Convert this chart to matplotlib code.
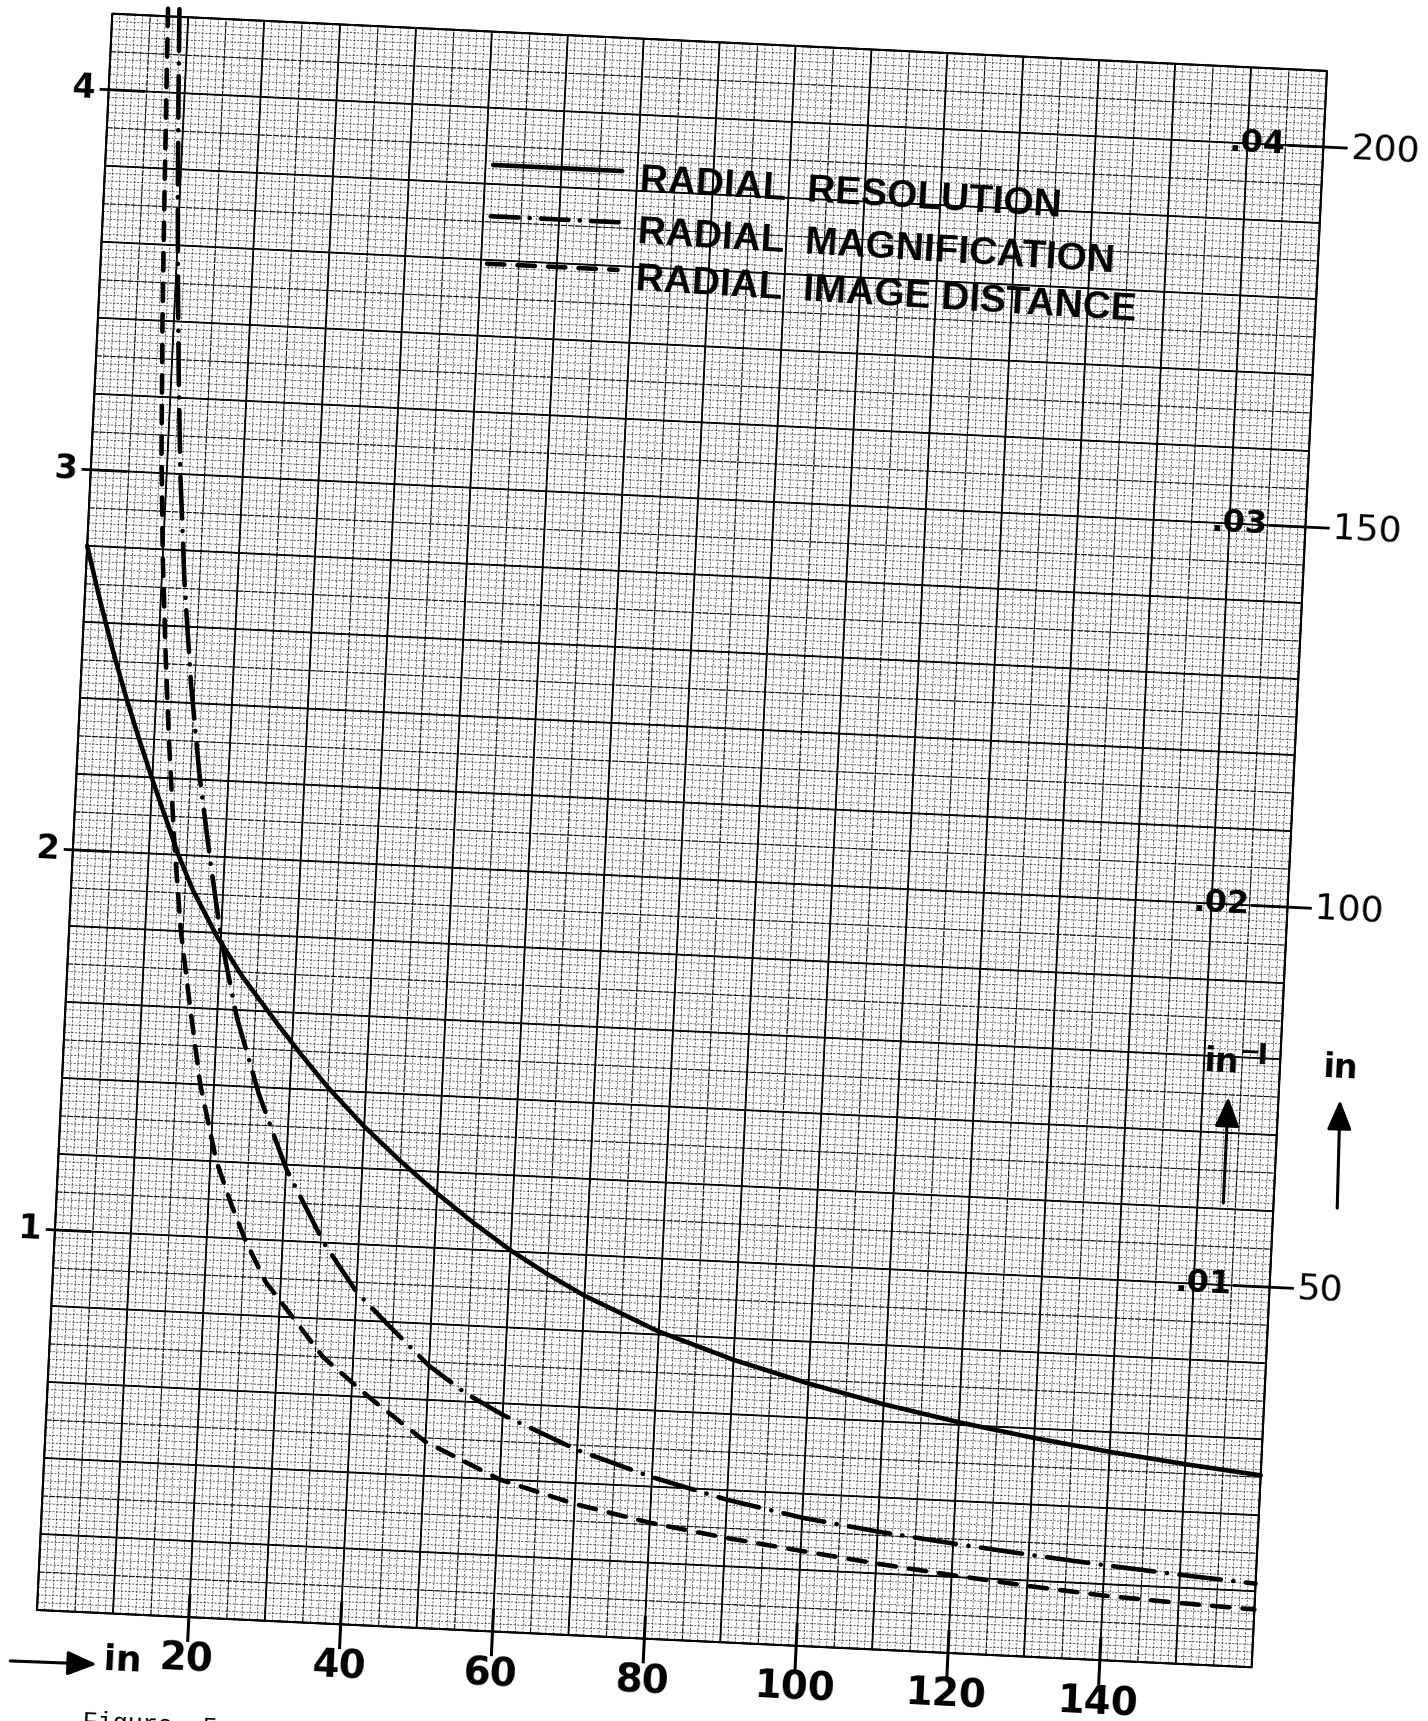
import numpy as np
import matplotlib.pyplot as plt
from matplotlib.collections import LineCollection
from matplotlib.transforms import Affine2D

plt.rcParams['lines.scale_dashes'] = False

# curves, in units of the left-hand scale
res_x = [0, 2, 4, 6, 8, 10, 12, 13.9, 16, 19.5, 23, 27.9, 31.1, 34.9, 40, 44.9, 50, 55,
         60, 65, 70, 80, 90, 100, 110, 120, 130, 140, 150, 160]
res_y = [2.8, 2.66, 2.53, 2.41, 2.3, 2.195, 2.095, 2.0, 1.91, 1.79, 1.69, 1.57, 1.495,
         1.41, 1.31, 1.225, 1.143, 1.07, 1.003, 0.945, 0.893, 0.808, 0.743, 0.69, 0.645,
         0.607, 0.575, 0.548, 0.525, 0.505]

mag_x = [8.8, 9.2, 9.7, 10.3, 11.0, 11.8, 13.0, 14.5, 16.2, 18.2, 20.1, 22.6, 26.0, 30.0,
         35.4, 40.0, 44.5, 50.0, 55.0, 60.0, 70.0, 80.0, 90.0, 100.0, 110.0, 120.0, 130.0,
         140.0, 150.0, 160.0]
mag_y = [4.22, 4.0, 3.75, 3.5, 3.25, 3.0, 2.72, 2.45, 2.21, 1.98, 1.78, 1.58, 1.38, 1.19,
         1.0, 0.875, 0.79, 0.69, 0.622, 0.57, 0.487, 0.425, 0.375, 0.337, 0.31, 0.288,
         0.268, 0.25, 0.234, 0.22]

img_x = [7.3, 7.6, 8.0, 8.5, 9.2, 10.0, 11.0, 12.0, 13.3, 14.7, 16.4, 18.2, 20.8, 23.0,
         25.0, 28.0, 31.8, 36.0, 42.3, 50.0, 60.0, 70.0, 80.0, 90.0, 100.0, 110.0, 120.0,
         130.0, 140.0, 150.0, 160.0]
img_y = [4.22, 4.0, 3.72, 3.40, 3.05, 2.78, 2.52, 2.29, 2.03, 1.8, 1.6, 1.4, 1.2, 1.09,
         1.0, 0.89, 0.8, 0.7, 0.6, 0.49, 0.40, 0.345, 0.305, 0.275, 0.25, 0.226, 0.205,
         0.186, 0.17, 0.16, 0.152]

left_ticks = [1, 2, 3, 4]
right_inv = ['.01', '.02', '.03', '.04']
right_in = ['50', '100', '150', '200']
bottom_ticks = [20, 40, 60, 80, 100, 120, 140]
legend_labels = ['RADIAL  RESOLUTION', 'RADIAL  MAGNIFICATION', 'RADIAL  IMAGE DISTANCE']

W, H, DPI = 1428, 1721, 100
X0, Y0 = 37, 111          # lower left corner of the sheet grid, pixels
PX_X, PX_Y = 7.6, 380.5   # pixels per unit
TILT = -2.7               # the sheet sits a little crooked
XMAX, YMAX = 160, 4.2

fig = plt.figure(figsize=(W / DPI, H / DPI), dpi=DPI)
ax = fig.add_axes([X0 / W, Y0 / H, XMAX * PX_X / W, YMAX * PX_Y / H])
ax.set_xlim(0, XMAX)
ax.set_ylim(0, YMAX)
ax.set_autoscale_on(False)
ax.axis('off')
tr = ax.transData + Affine2D().rotate_deg_around(X0, Y0, TILT)


def grid(dx, dy, **kw):
    xs = np.arange(0, XMAX + 1e-9, dx)
    ys = np.arange(0, YMAX + 1e-9, dy)
    segs = [[(x, 0), (x, YMAX)] for x in xs] + [[(0, y), (XMAX, y)] for y in ys]
    ax.add_collection(LineCollection(segs, transform=tr, clip_on=False, **kw), autolim=False)


# graph paper: fine, half and full divisions
grid(1, 0.02, colors='0.15', linewidths=0.5, linestyles=[(0, (1.6, 1.0))], zorder=1)
grid(5, 0.1, colors='0.05', linewidths=0.8, linestyles=[(0, (4.0, 1.0))], zorder=2)
grid(10, 0.2, colors='black', linewidths=1.3, zorder=3)
ax.plot([0, XMAX, XMAX, 0, 0], [0, 0, YMAX, YMAX, 0], color='black', lw=1.5,
        transform=tr, clip_on=False, zorder=3)

kw = dict(transform=tr, clip_on=False, color='black', lw=3.3,
          solid_capstyle='round', dash_capstyle='round', solid_joinstyle='round', zorder=5)
ax.plot(res_x, res_y, '-', **kw)
ax.plot(mag_x, mag_y, dashes=[30, 9, 0.1, 9], **kw)
ax.plot(img_x, img_y, dashes=[12.5, 9.5], **kw)

# legend
leg_y = [3.85, 3.715, 3.59]
ax.plot([51, 68], [leg_y[0]] * 2, '-', **kw)
ax.plot([51, 68], [leg_y[1]] * 2, dashes=[20, 8, 0.1, 8], **kw)
ax.plot([50.8, 68], [leg_y[2]] * 2, dashes=[12.5, 9.5], **kw)
for yy, lab in zip(leg_y, legend_labels):
    ax.text(70.4, yy - 0.025, lab, transform=tr, rotation=TILT - 0.8, rotation_mode='anchor',
            ha='left', va='center', fontsize=28, fontweight='bold',
            family='Liberation Sans', zorder=6)

num = dict(transform=tr, rotation=TILT, rotation_mode='anchor', family='DejaVu Sans',
           zorder=6)
tick = dict(transform=tr, clip_on=False, color='black', solid_capstyle='butt', zorder=4)

# left scale
for v in left_ticks:
    ax.plot([-1.2, 4.8], [v, v], lw=2.0, **tick)
    ax.text(-1.8, v, str(v), ha='right', va='center', fontsize=24, fontweight='bold', **num)

# right scales, in^-1 inside and inches outside
for v, a, b in zip(left_ticks, right_inv, right_in):
    ax.plot([155.2, 163.2], [v, v], lw=2.0, **tick)
    ax.text(155.0, v, a, ha='right', va='center', fontsize=23, fontweight='heavy', **num)
    ax.text(163.6, v, b, ha='left', va='center', fontsize=26, **num)

# bottom scale
for v in bottom_ticks:
    ax.plot([v, v], [0.06, -0.065], lw=2.2, **tick)
    ax.text(v, -0.113, str(v), ha='center', va='center', fontsize=28, fontweight='bold', **num)

arrow = dict(arrowstyle='-|>,head_length=0.6,head_width=0.25', mutation_scale=30,
             lw=2.2, color='black', shrinkA=0, shrinkB=0)
ax.annotate('', xy=(8.2, -0.135), xytext=(-3.2, -0.137), xycoords=tr, textcoords=tr,
            arrowprops=arrow, annotation_clip=False)
ax.text(11.5, -0.122, 'in', ha='center', va='center', fontsize=26, fontweight='bold', **num)

ax.annotate('', xy=(153.4, 1.494), xytext=(153.4, 1.215), xycoords=tr, textcoords=tr,
            arrowprops=arrow, annotation_clip=False)
ax.annotate('', xy=(168.1, 1.50), xytext=(168.4, 1.216), xycoords=tr, textcoords=tr,
            arrowprops=arrow, annotation_clip=False)
ax.text(152.2, 1.583, 'in', ha='center', va='center', fontsize=24, fontweight='bold', **num)
ax.text(154.6, 1.615, '\u2212', ha='left', va='center', fontsize=18, fontweight='bold', **num)
ax.text(156.9, 1.605, 'I', ha='left', va='center', fontsize=20, fontweight='bold', **num)
ax.text(167.9, 1.584, 'in', ha='center', va='center', fontsize=24, fontweight='bold', **num)

fig.text(83 / W, 1 - 1710 / H, 'Figure  5.', ha='left', va='top', fontsize=18,
         family='Liberation Mono', rotation=TILT, rotation_mode='anchor')

fig.savefig('out.png', dpi=DPI)
